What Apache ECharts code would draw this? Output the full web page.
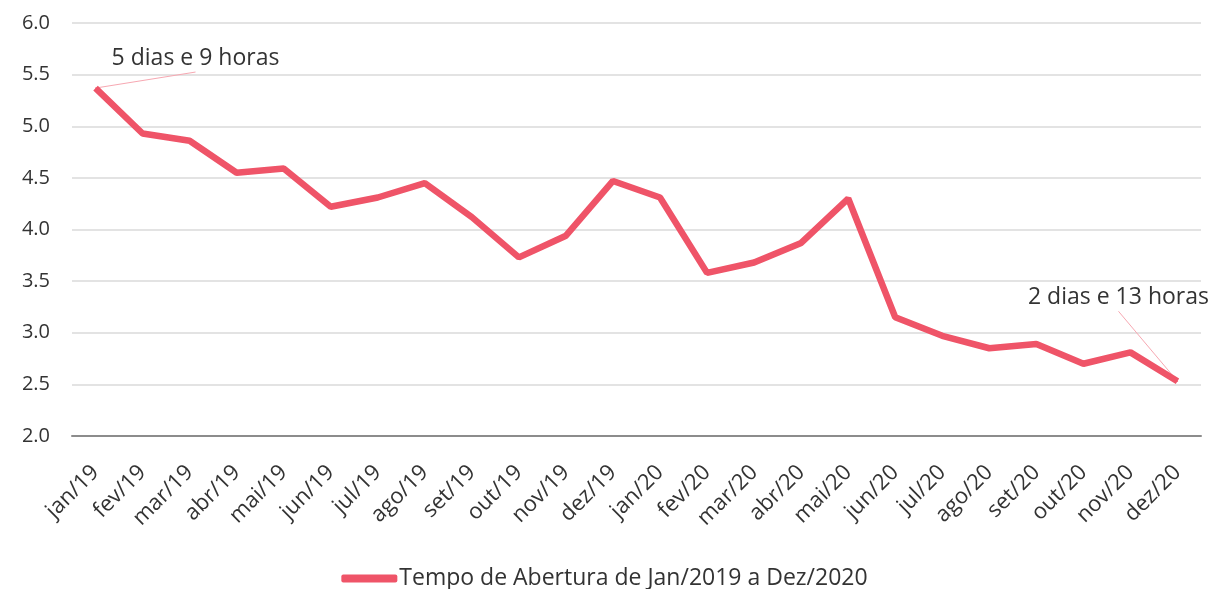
<!DOCTYPE html>
<html>
<head>
<meta charset="utf-8">
<script src="https://cdn.jsdelivr.net/npm/echarts@6/dist/echarts.min.js"></script>
<style>html,body{margin:0;padding:0;background:#fff;}#c{width:1209px;height:589px;}</style>
</head>
<body>
<div id="c"></div>
<script>
const categories = ['jan/19','fev/19','mar/19','abr/19','mai/19','jun/19','jul/19','ago/19','set/19','out/19','nov/19','dez/19',
  'jan/20','fev/20','mar/20','abr/20','mai/20','jun/20','jul/20','ago/20','set/20','out/20','nov/20','dez/20'];
const values = [5.37,4.93,4.86,4.55,4.59,4.22,4.31,4.45,4.12,3.73,3.94,4.47,
  4.31,3.58,3.68,3.87,4.30,3.15,2.97,2.85,2.89,2.70,2.81,2.53];
const seriesName = 'Tempo de Abertura de Jan/2019 a Dez/2020';
const annotations = {0: '5 dias e 9 horas', 23: '2 dias e 13 horas'};

const COLOR = '#EF5468';
const FONT = '"Open Sans", "Noto Sans", sans-serif';
const TXT = '#333333';
const LEADER = '#F7A8B2';

// annotation label offsets (pixels, relative to default 'top' label position)
const shifts = {0: [100, -13], 23: [-59, -67]};
const LABEL_DIST = 5;

const data = values.map((v, i) => {
  const item = {value: v};
  if (annotations[i] !== undefined) {
    item.label = {show: true, formatter: annotations[i]};
  }
  return item;
});

const chart = echarts.init(document.getElementById('c'));
chart.setOption({
  animation: false,
  backgroundColor: '#fff',
  grid: {left: 72, right: 8, top: 23, bottom: 153, containLabel: false},
  legend: {
    bottom: -6,
    left: 'center',
    icon: 'roundRect',
    itemWidth: 56,
    itemHeight: 8,
    itemGap: 4,
    textStyle: {fontFamily: FONT, fontSize: 23, color: TXT, padding: [0,0,0,-3]},
    data: [seriesName]
  },
  xAxis: {
    type: 'category',
    data: categories,
    boundaryGap: true,
    axisLine: {show: true, lineStyle: {color: '#8c8c8c', width: 2}},
    axisTick: {show: false},
    axisLabel: {rotate: 45, margin: 33, fontFamily: FONT, fontSize: 22, color: TXT, interval: 0}
  },
  yAxis: {
    type: 'value',
    min: 2,
    max: 6,
    interval: 0.5,
    axisLine: {show: false},
    axisTick: {show: false},
    splitLine: {lineStyle: {color: '#e3e3e3', width: 2}},
    axisLabel: {margin: 22, fontFamily: FONT, fontSize: 20, color: TXT, formatter: v => v.toFixed(1)}
  },
  series: [{
    name: seriesName,
    type: 'line',
    data: data,
    symbol: 'circle',
    symbolSize: 1,
    showSymbol: true,
    itemStyle: {color: COLOR},
    lineStyle: {color: COLOR, width: 6.5},
    label: {show: false, position: 'top', distance: LABEL_DIST, fontFamily: FONT, fontSize: 23, color: TXT},
    labelLayout: function (p) {
      const s = shifts[p.dataIndex];
      if (!s) return {};
      return {dx: s[0], dy: s[1]};
    }
  }]
});

// leader lines from each annotated data point (via the chart's scales) to its label
const leaders = Object.keys(annotations).map(k => {
  const i = +k;
  const pt = chart.convertToPixel({seriesIndex: 0}, [i, values[i]]);
  const s = shifts[i];
  return {
    type: 'line',
    silent: true,
    z: 1,
    shape: {x1: pt[0], y1: pt[1], x2: pt[0] + s[0], y2: pt[1] - LABEL_DIST + s[1] + 2},
    style: {stroke: LEADER, lineWidth: 1}
  };
});
chart.setOption({graphic: leaders});
</script>
</body>
</html>
